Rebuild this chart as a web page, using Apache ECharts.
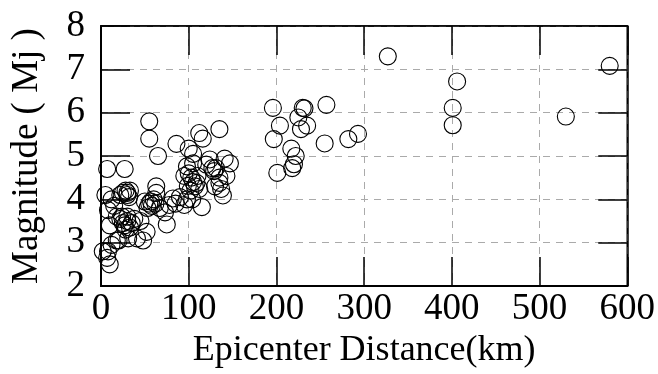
<!DOCTYPE html>
<html>
<head>
<meta charset="utf-8">
<script src="https://cdn.jsdelivr.net/npm/echarts@6/dist/echarts.min.js"></script>
<style>
html, body { margin: 0; padding: 0; background: #fff; }
#chart { width: 658px; height: 374px; }
</style>
</head>
<body>
<div id="chart"></div>
<script>
// epicenter distance (km) and magnitude (Mj)
const distance = [
    2, 8, 10, 7, 12, 20,
    7, 27,
    5, 12, 22, 25, 28, 30, 32, 30, 33,
    8, 15, 18, 22, 25, 27, 30, 33, 35, 28, 24, 30, 38,
    10, 18, 31, 41, 48, 52, 45,
    50, 55, 58, 60, 53, 57, 62,
    55, 55, 65,
    63, 63, 67, 75, 73, 78, 82, 90, 85, 95,
    86, 100, 105, 112, 116, 135,
    95, 98, 99, 103, 105, 109, 110, 112, 115, 105, 100, 102, 107, 104, 98,
    124, 127, 131, 129, 141, 147, 143, 135, 135, 137, 139, 120, 130,
    196, 204, 197, 201, 217, 222, 220, 218, 225, 230, 232, 235, 228,
    257, 255, 282, 293, 327, 406, 401, 401, 530, 580
];
const magnitude = [
    2.8, 2.8, 2.5, 2.65, 2.95, 3.05,
    4.7, 4.7,
    4.1, 4.0, 4.1, 4.15, 4.2, 4.1, 4.05, 4.15, 4.2,
    3.75, 3.85, 3.6, 3.55, 3.45, 3.4, 3.5, 3.35, 3.45, 3.3, 3.6, 3.6, 3.55,
    3.4, 3.05, 3.1, 3.1, 3.05, 3.25, 3.5,
    3.95, 3.9, 3.85, 4.0, 3.8, 3.95, 3.9,
    5.8, 5.4, 5.0,
    4.3, 4.15, 3.8, 3.42, 3.7, 3.87, 4.02, 4.05, 3.9, 3.87,
    5.28, 5.17, 5.05, 5.53, 5.4, 5.62,
    4.54, 4.76, 4.31, 4.5, 4.4, 4.38, 4.54, 4.24, 3.82, 4.83, 4.6, 4.2, 4.3, 4.0, 4.0,
    4.92, 4.72, 4.72, 4.65, 4.94, 4.83, 4.54, 4.5, 4.38, 4.24, 4.09, 4.8, 4.3,
    6.11, 5.7, 5.39, 4.61, 5.17, 5.0, 4.81, 4.72, 5.89, 6.11, 6.1, 5.7, 5.62,
    6.18, 5.29, 5.39, 5.51, 7.3, 6.72, 6.11, 5.71, 5.91, 7.08
];
const xTicks = [0, 600, 100];
const yTicks = [2, 8, 1];

const points = distance.map((d, i) => [d, magnitude[i]]);

const font = "'Liberation Serif', 'Times New Roman', serif";
const labelStyle = { fontFamily: font, fontSize: 37, color: "#000" };
const splitStyle = () => ({
    show: true,
    lineStyle: { color: "#aaa", type: [7, 6], width: 1 },
});
const tickStyle = () => ({
    show: true,
    inside: true,
    length: 29,
    lineStyle: { color: "#000", width: 1.5 },
});
const line = w => ({
    show: true,
    onZero: false,
    lineStyle: { color: "#000", width: w },
});

const chart = echarts.init(document.getElementById("chart"));
chart.setOption({
    animation: false,
    backgroundColor: "#fff",
    grid: {
        left: 101,
        right: 29,
        top: 26,
        bottom: 81,
        show: true,
        borderColor: "#000",
        borderWidth: 1.5,
    },
    xAxis: [
        {
            type: "value",
            min: xTicks[0],
            max: xTicks[1],
            interval: xTicks[2],
            name: "Epicenter Distance(km)",
            nameLocation: "middle",
            nameGap: 47,
            nameTextStyle: { fontFamily: font, fontSize: 36, color: "#000" },
            axisLine: line(2),
            axisTick: tickStyle(),
            axisLabel: { ...labelStyle, margin: 5 },
            splitLine: splitStyle(),
        },
        {
            type: "value",
            position: "top",
            min: xTicks[0],
            max: xTicks[1],
            interval: xTicks[2],
            axisLine: line(1.5),
            axisTick: tickStyle(),
            axisLabel: { show: false },
            splitLine: { show: false },
        },
    ],
    yAxis: [
        {
            type: "value",
            min: yTicks[0],
            max: yTicks[1],
            interval: yTicks[2],
            name: "Magnitude ( Mj )",
            nameLocation: "middle",
            nameGap: 55,
            nameTextStyle: { fontFamily: font, fontSize: 37, color: "#000" },
            axisLine: line(2),
            axisTick: tickStyle(),
            axisLabel: { ...labelStyle, margin: 16 },
            splitLine: splitStyle(),
        },
        {
            type: "value",
            position: "right",
            min: yTicks[0],
            max: yTicks[1],
            interval: yTicks[2],
            axisLine: line(1.5),
            axisTick: tickStyle(),
            axisLabel: { show: false },
            splitLine: { show: false },
        },
    ],
    series: [
        {
            type: "scatter",
            data: points,
            symbol: "circle",
            symbolSize: 17,
            itemStyle: {
                color: "rgba(0,0,0,0)",
                borderColor: "#000",
                borderWidth: 1.1,
                opacity: 1,
            },
            z: 5,
        },
        {
            type: "scatter",
            xAxisIndex: 1,
            yAxisIndex: 1,
            data: [],
        },
    ],
});
</script>
</body>
</html>
